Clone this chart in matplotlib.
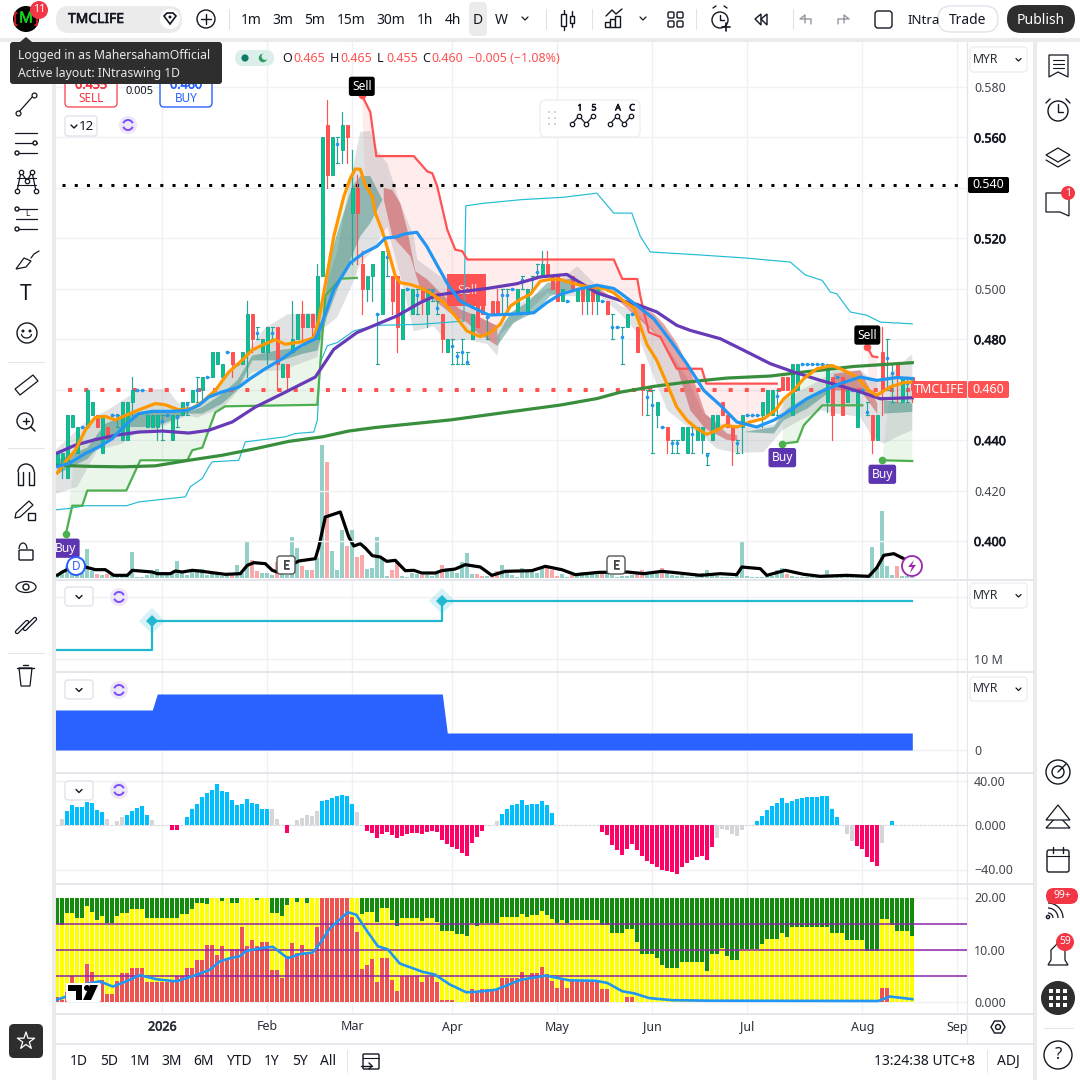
import numpy as np
import matplotlib
matplotlib.use("Agg")
import matplotlib.pyplot as plt
import matplotlib.patheffects as pe
from matplotlib.patches import FancyBboxPatch, Circle, Rectangle, Polygon

plt.rcParams['font.family'] = ['Noto Sans', 'DejaVu Sans']
plt.rcParams['lines.solid_joinstyle'] = 'round'

# ---------------- candles (one per trading day) ----------------
opens = [.43,.43,.425,.445,.435,.445,.445,.45,.45,.435,.445,.45,.45,.44,.44,.455,.46,.46,.445,.445,
 .445,.4475,.45,.44,.449,.45,.4545,.455,.46,.46,.465,.465,.47,.465,.475,.475,.47,.47,.475,.49,
 .4825,.475,.475,.4825,.485,.465,.47,.475,.48,.49,.485,.49,.48,.505,.565,.545,.5575,.555,.565,.53,
 .54,.51,.50,.505,.49,.49,.5125,.505,.505,.48,.50,.49,.4975,.50,.49,.499,.4925,.49,.475,.4775,
 .4735,.475,.471,.48,.495,.495,.489,.495,.495,.4975,.4975,.50,.49,.5035,.49,.504,.5065,.505,.51,.505,
 .505,.495,.495,.505,.495,.50,.495,.50,.495,.495,.495,.485,.485,.481,.485,.49,.485,.47,.457,.454,
 .45,.445,.445,.439,.439,.44,.435,.4425,.44,.44,.434,.44,.445,.455,.45,.445,.439,.445,.45,.45,
 .45,.45,.45,.45,.4575,.465,.465,.45,.46,.47,.47,.47,.47,.47,.455,.465,.465,.465,.455,.46,
 .445,.46,.451,.45,.44,.475,.4725,.4665,.47,.455,.4625,.465]
closes = [.435,.435,.45,.45,.445,.445,.46,.455,.445,.45,.44,.45,.45,.455,.455,.46,.46,.46,.45,.45,
 .45,.4475,.45,.45,.449,.455,.4545,.46,.46,.465,.465,.475,.475,.47,.475,.47,.47,.475,.49,.48,
 .4825,.48,.485,.4825,.47,.47,.465,.48,.49,.485,.49,.485,.505,.56,.545,.56,.5575,.565,.56,.54,
 .53,.50,.505,.51,.49,.515,.5125,.495,.485,.50,.50,.50,.4975,.495,.50,.499,.4925,.48,.48,.4775,
 .4735,.475,.471,.49,.485,.49,.489,.49,.49,.4975,.4975,.50,.50,.5035,.50,.504,.5065,.51,.505,.50,
 .495,.50,.495,.50,.50,.495,.50,.495,.50,.495,.49,.485,.485,.481,.49,.49,.475,.46,.457,.454,
 .455,.445,.44,.439,.439,.445,.445,.4425,.445,.445,.434,.45,.45,.45,.445,.44,.439,.45,.45,.45,
 .45,.455,.46,.46,.4575,.46,.46,.47,.47,.47,.47,.47,.47,.47,.47,.45,.465,.45,.46,.46,
 .46,.46,.451,.44,.45,.46,.4725,.4665,.465,.465,.4625,.46]
highs = [.435,.435,.45,.45,.445,.445,.46,.455,.45,.45,.445,.45,.45,.455,.455,.465,.46,.46,.45,.45,
 .45,.45,.45,.45,.45,.455,.455,.46,.465,.465,.465,.475,.475,.47,.475,.475,.47,.475,.495,.49,
 .485,.48,.485,.485,.485,.47,.47,.495,.49,.495,.49,.49,.51,.56,.575,.56,.56,.57,.565,.555,
 .545,.515,.505,.51,.49,.515,.515,.505,.505,.50,.50,.50,.50,.50,.50,.50,.495,.49,.48,.48,
 .475,.48,.475,.49,.50,.495,.489,.495,.50,.50,.50,.50,.50,.505,.50,.505,.51,.515,.515,.505,
 .505,.50,.495,.505,.50,.50,.50,.50,.50,.495,.495,.49,.485,.485,.49,.49,.485,.47,.46,.46,
 .455,.445,.445,.44,.44,.445,.445,.445,.445,.445,.435,.45,.45,.455,.45,.445,.44,.45,.45,.45,
 .45,.455,.46,.46,.46,.465,.465,.47,.47,.47,.47,.47,.47,.47,.47,.465,.465,.465,.46,.46,
 .46,.46,.455,.45,.45,.485,.48,.47,.47,.465,.465,.465]
lows = [.43,.425,.425,.445,.435,.445,.445,.45,.445,.435,.44,.45,.445,.44,.44,.45,.46,.46,.445,.445,
 .44,.44,.45,.44,.445,.45,.45,.455,.455,.455,.465,.465,.47,.465,.475,.465,.47,.47,.465,.475,
 .48,.475,.47,.48,.46,.465,.46,.475,.48,.48,.485,.48,.48,.505,.54,.545,.55,.55,.55,.51,
 .51,.49,.495,.495,.47,.49,.505,.49,.475,.48,.50,.49,.49,.49,.485,.495,.49,.475,.475,.47,
 .47,.47,.47,.48,.485,.49,.48,.49,.49,.49,.49,.50,.49,.50,.49,.50,.505,.505,.505,.50,
 .495,.495,.495,.50,.495,.49,.49,.49,.49,.495,.49,.48,.485,.47,.485,.49,.475,.45,.45,.435,
 .445,.445,.435,.435,.435,.44,.435,.435,.44,.435,.43,.44,.445,.45,.445,.43,.435,.435,.45,.45,
 .45,.445,.45,.45,.45,.46,.46,.45,.46,.47,.47,.47,.47,.47,.451,.44,.465,.45,.455,.46,
 .445,.46,.45,.435,.44,.45,.46,.455,.455,.455,.455,.455]

# ---------------- volume ----------------
volume = [15,20,35,20,20,15,88,20,12,10,12,8,8,8,10,78,4,4,8,15,28,10,8,18,50,15,8,28,28,28,10,15,15,5,8,10,38,15,112,55,
 20,15,15,10,48,15,10,122,90,35,25,25,60,400,347,80,25,145,95,145,62,70,28,30,123,60,6,25,48,6,3,15,12,10,8,6,12,40,30,25,
 15,48,75,12,12,6,6,5,20,38,15,8,3,30,25,25,15,32,36,25,6,12,3,8,5,18,10,12,12,20,15,10,3,5,5,8,18,25,10,12,
 14,30,14,8,5,8,4,4,5,14,25,12,5,4,3,4,5,112,5,3,3,4,8,6,25,30,13,6,3,3,3,3,3,6,25,8,8,8,8,3,
 3,3,10,92,30,202,35,8,35,5,5,3]
vol_down_idx = [8,10,35,39,40,44,49,51,54,58,60,61,67,68,73,77,84,85,87,88,98,99,100,103,109,116,117,121,146,168]
flow_i = [0,1,3,5.6,7.6,9.6,11.3,14,15,19,20,22.6,23.6,25,27,29,31,33.6,36.6,38,39.3,41.6,43,44,48.3,51.6,52.3,53.6,56.6,58.3,59.3,60.6,
 61.6,63,64.6,65.9,67.6,69.6,71.3,72.9,75.6,76.9,79.6,81.6,84.6,86.9,89.6,94.9,97.6,100.9,103.6,108.3,114,117.3,120.9,124.3,128.6,132.6,135.9,136.9,140.6,141.9,145.6,149.3,152.6,157.9,162.3,163.9,165.3,167.3,169.3]
flow_v = [8,18,33,33,25,25,8,8,23,18,13,13,21,18,23,20,16,11,13,38,46,43,23,18,51,58,93,183,198,123,96,103,
 90,67,63,50,53,22,23,15,15,22,27,40,33,8,20,22,35,25,10,17,18,13,20,15,8,13,10,33,28,8,23,11,5,8,5,31,68,73,58]

# ---------------- moving averages ----------------
orange_i = [0,1.6,3.6,5.6,7.6,9.6,11.6,13.9,16.3,19.6,21.6,24.3,26.9,28.9,31.6,34.3,36.6,38.9,40.9,43.6,45.6,48.9,51.3,52.3,54,55.3,57.3,58.6,59.6,60.6,61.6,63,63.6,65,66.3,67.6,68.6,70.6,72.6,74.6,77.3,79.6,81.9,84.6,86.6,88.6,90.6,92.6,94.6,96.6,98.6,100.6,102.6,105.3,109.3,111.3,113.3,115.3,117.9,119.9,121.9,123.9,125.9,127.9,129.9,131.9,133.6,135.9,138.6,141.3,143.6,145.3,147.3,149.3,151.9,154.9,157.3,159.9,162.3,163.9,166.6,169.3,171]
orange_p = [.427,.4313,.436,.444,.449,.4494,.448,.45,.452,.4545,.454,.452,.4525,.455,.4597,.467,.471,.4756,.4776,.4798,.478,.479,.4806,.4875,.5063,.5208,.5366,.5438,.5475,.5474,.5412,.5366,.53,.5228,.5142,.505,.5024,.5017,.5004,.4984,.4945,.4892,.4833,.481,.4826,.486,.4931,.4958,.4978,.503,.5037,.5037,.5024,.5011,.5001,.4984,.4951,.4925,.478,.4716,.4624,.4531,.4479,.4446,.4423,.4439,.4459,.4452,.4472,.4485,.4518,.4564,.4597,.4644,.4683,.4696,.4677,.465,.4597,.4578,.4611,.4628,.463]
blue_i = [0,2.3,5.6,8.3,11,12.6,14.3,16.3,19,23,26,28.3,30.3,33,36.3,38.6,41.6,45,48.3,51.6,52.6,55.3,58.6,61.3,63.9,65.6,67.6,69.6,71.9,73.9,75.9,78.3,80.6,83.6,86.3,90.6,95.3,97.9,100.6,103.9,107.9,111.3,112.6,115.9,119.3,122.6,125.9,129.3,132.6,135.9,139.9,143.3,146.6,149.9,153.3,156.6,160.6,163.9,167.9,171]
blue_p = [.4296,.4307,.4347,.4373,.4406,.4439,.4472,.4505,.4514,.4514,.4518,.4538,.4571,.4591,.461,.4644,.4683,.4723,.4769,.4802,.4846,.4997,.5103,.5142,.5168,.5201,.5205,.5218,.5224,.5168,.5096,.5011,.4951,.4921,.4896,.4899,.4905,.4945,.4978,.4997,.5014,.5001,.4983,.4934,.4881,.4795,.4703,.4597,.4538,.4472,.4452,.4479,.4518,.4564,.4597,.4624,.465,.4637,.4648,.4644]
purple_i = [0,3.6,7.6,11.6,16.3,21,26.3,30.3,35,39.6,45,51.6,55.3,59.9,63.9,67.9,72.6,75.9,80.6,85.9,91.9,96.6,101.9,104.6,107.9,112.6,115.9,119.9,123.9,126.6,132.6,137.3,142.6,147.3,152.6,157.3,160.6,164.6,171]
purple_p = [.4349,.438,.4402,.4419,.4432,.4436,.4428,.4439,.4472,.4531,.4584,.465,.476,.4826,.4859,.4892,.4945,.4975,.4988,.5001,.502,.5047,.5057,.5024,.4984,.4954,.4938,.4908,.4855,.4835,.4802,.4756,.4703,.467,.4637,.4611,.4591,.4564,.4568]
longma_i = [0,6.3,13,19.6,26.3,33,39.6,46.3,53,58.3,63.6,78.6,88.6,100.6,108,112.6,119.3,125.9,133.9,142.6,149.3,159.3,171]
longma_p = [.43,.4296,.4294,.4298,.432,.434,.4366,.4395,.4413,.4436,.445,.448,.4507,.4539,.4565,.459,.4613,.463,.4646,.4654,.467,.4692,.4707]
cyan_i = [-1,2.3,5.6,13.9,16.3,25.6,26.6,29,30.3,31,36.3,37.6,45.6,47.6,51.3,52,52.6,54,56,59.3,63.9,72.6,81.3,81.7,85.3,92.6,101.3,107.9,111.3,114.9,116.6,118.6,128.6,137.6,146.6,149.6,153,154.6,155.9,158.6,161.9,164.6,171]
cyan_p = [.4122,.4129,.414,.414,.4155,.4175,.4215,.4248,.4294,.4314,.432,.4393,.4413,.4426,.4432,.4479,.4708,.4774,.4787,.4833,.4855,.4859,.4872,.5329,.5339,.5353,.5363,.5379,.53,.53,.5208,.5146,.5134,.5122,.5106,.5055,.5033,.4987,.498,.4908,.4895,.4868,.4861]

# ---------------- trailing stops ----------------
green1_i = [1.7,3,5,6,13.8,16.6,26,27,29,31.6,33.6,52,53.6,54,56.6,59.9]
green1_p = [.4027,.414,.414,.42,.42,.432,.432,.436,.437,.451,.4534,.454,.4974,.4981,.504,.5043]
red1_i = [60.9,62.6,63.8,71.3,74,75,76,78,79.6,81,82,111.3,113,116,116.6,118.3,120.6,123.9,128.9,129.8,143.9]
red1_p = [.5767,.5701,.5526,.5526,.5465,.5458,.5405,.5234,.5155,.5149,.5116,.5116,.5039,.5039,.4971,.4828,.4809,.4683,.4683,.4624,.4624]
green2_i = [145,148,149.3,153,161]
green2_p = [.4386,.4393,.4459,.4538,.4538]
red2_i = [162,163,164]
red2_p = [.4769,.4732,.4729]
green3_i = [165,171]
green3_p = [.432,.4317]

# ---------------- ribbons ----------------
cloud_top_i = [-1,6,11,16,22,24,28,32,34,39,41.6,46,52,56,58.3,60.6,62.6,64,66,68.3,71.3,72,76,79,85,88,90,92.6,99,104,108,112.6,115.9,119.3,122.6,125.9,129.3,132.6,135.9,140.6,143.6,145.3,148.6,152.6,155.3,160.6,163.3,166,170.6,171]
cloud_top_p = [.4349,.4477,.453,.4597,.4603,.4551,.4525,.4597,.4656,.4779,.4845,.4898,.4905,.515,.54,.5622,.5626,.555,.5497,.5353,.5208,.5116,.5057,.501,.4879,.4853,.4879,.4945,.501,.5089,.501,.4934,.4901,.4835,.4749,.465,.4505,.4465,.4452,.4452,.4465,.4558,.4597,.4637,.4677,.4677,.4637,.465,.4736,.4736]
cloud_bot_i = [-1,4,8,13,16,20,26,28,33,35,39,45,52,53,56,58.6,60.6,63,66,68.5,71.3,75.3,78,81.3,86,88,88.6,90.6,94,98,100.6,104,108.6,112.6,115.9,119.3,122,125.3,129.3,131.9,135.9,141.3,145,148.6,152.6,155.9,160.6,163,165.3,168.6,171]
cloud_bot_p = [.4182,.4215,.436,.4386,.4432,.4445,.4498,.4489,.4528,.4568,.4671,.4677,.4729,.4838,.4888,.5,.51,.515,.5247,.5057,.4831,.4851,.4787,.48,.4781,.4734,.482,.4853,.4905,.4984,.4971,.4971,.4971,.4901,.4828,.465,.4518,.4465,.4413,.4366,.4349,.4353,.4439,.4479,.4518,.4505,.4492,.4413,.4386,.4419,.4439]

rise1_top_i = [0,6,9.6,14.3,19.6,26,29,33,36,39,44,49,52,53,54.6,56.6,59,60.6,62.6,65]
rise1_top_p = [.432,.437,.4465,.4505,.4512,.4512,.4531,.4584,.4637,.4735,.4756,.4768,.4809,.487,.5129,.526,.5405,.5447,.5447,.5353]
rise1_bot_i = [0,6,9.6,14.3,19.6,26,29,33,36,39,45,49,52,54,56,58.6,60.6,62.6,65]
rise1_bot_p = [.4265,.4325,.44,.4452,.4452,.4505,.4505,.4545,.4598,.4716,.4716,.4742,.4755,.4892,.4997,.5116,.5208,.526,.5353]
fall1_top_i = [65.3,67,68.6,70,71.6,74,76.6,80.6,84,88]
fall1_top_p = [.5399,.5392,.5339,.5234,.507,.5037,.4984,.4918,.4892,.4853]
fall1_bot_i = [65.3,67,70.6,72.6,76,79.3,82,84,88]
fall1_bot_p = [.5353,.5208,.5129,.50,.4945,.4892,.4866,.4826,.4774]
rise2_top_i = [88,90.6,94,98,100.6,103]
rise2_top_p = [.4813,.4905,.4945,.5024,.503,.5043]
rise2_bot_i = [88,91.3,95.3,98.6,103]
rise2_bot_p = [.4774,.4866,.4905,.4971,.50]
fall2_top_i = [105,108.6,112.6,115.9,119.3,121.3,124,126.6,129.6,134,136]
fall2_top_p = [.5011,.4997,.4947,.494,.4901,.4861,.4782,.4677,.4505,.4426,.4419]
fall2_bot_i = [105,108.6,112.6,115.9,119.3,121.3,124,126.6,129.6,134,136]
fall2_bot_p = [.5011,.4981,.4945,.4888,.4828,.4789,.4683,.4518,.4446,.44,.44]
rise3_top_i = [137.3,143.3,146,150,154]
rise3_top_p = [.4432,.4452,.4525,.4571,.4613]
rise3_bot_i = [137.3,143.3,145.3,150,154]
rise3_bot_p = [.4432,.4426,.4479,.4525,.4584]
fall3_top_i = [155.3,160.6,164]
fall3_top_p = [.4663,.4677,.4545]
fall3_bot_i = [155.3,160.6,164]
fall3_bot_p = [.4597,.4597,.4505]
rise4_top_i = [165.3,171]
rise4_top_p = [.4558,.4545]
rise4_bot_i = [165.3,171]
rise4_bot_p = [.4505,.4512]

# ---------------- lower panes ----------------
step_i = [-1,19,19,77,77,171]
step_v = [11.5,11.5,16.1,16.1,19.4,19.4]
area_i = [-1,19,20,77,78,171]
area_v = [40,40,56,56,17,17]

osc = [0,5.4,12.9,18.7,16.6,16.6,21.1,20.2,13.9,12,5.4,0,3.9,7.8,9.3,12.9,15.7,17.5,9.3,4.5,.6,.6,.6,-4.2,-4.2,0,7.5,15,19.6,25.6,
 29.2,32.2,37.3,31.3,30.1,22.6,18.7,19.6,23.8,20.2,19.3,15,15,15,5.4,0,-6.6,0,4.8,6.6,9.3,8.4,12.9,22.3,22.9,24.7,26.5,27.4,26.5,19.3,
 12,0,-5.1,-7.2,-11.1,-7.8,-5.7,-8.4,-11.1,-9.3,-7.8,-6.9,-6.9,-7.5,-6,-5.1,-6,-12.9,-16.6,-19.3,-21.1,-25,-27.4,-15.7,-10.2,-5.1,0,0,3.6,10.2,
 14.4,18.1,19.6,22.9,18.7,19.6,19.6,22,18.7,11.4,0,0,0,0,0,0,0,0,0,-6,-8.7,-17.5,-22.6,-26.5,-21.1,-16.6,-22,-27.7,-32.2,-34.9,
 -37.6,-40.3,-41.8,-42.7,-43.9,-37.6,-33.7,-31,-28.6,-27.7,-31.3,-19.6,-11.1,-3.6,-4.2,-7.5,-9.6,-4.2,0,0,4.2,8.4,13.8,17.5,20.2,24.7,20.2,22,23.8,24.7,
 25.6,25.6,25.6,26.5,26.5,14.7,7.5,0,-7.5,-13.8,-18.7,-21.1,-28.3,-32.8,-36.4,-15.7,0,3.9,0,0,0,0]
osc_grey_idx = [1,10,12,13,19,20,21,22,43,44,48,49,50,51,52,60,88,132,133,134,135,136,137,158,159,165]

stack_red = [1.0,.5,1.9,5,2.4,3.7,7.4,5.8,1.8,4.2,1.5,1.5,4.1,5.5,5.5,6.6,6.6,6.6,3.8,3.8,3.8,3.8,3.8,3.8,5.1,5.1,6.6,6.6,8.1,8.1,
 11,11,9.1,10.7,8.4,10.2,10.2,14.4,10.7,11.9,10.7,11.6,11.6,6.2,6.2,4.6,8.9,11.4,9.4,11,9.3,9.3,14.3,20,20,20,20,20,20,16.2,
 13.5,6.4,7.2,8.3,3.8,8.4,8.4,4.2,2.2,5,5,5,5,3.8,4.8,4.8,3.8,.5,.5,.5,.1,.1,.1,2.5,1.7,2.5,2.5,2.5,2.5,4.6,
 4.6,4.6,4.6,5.8,4.4,5.5,5.5,6.7,5.4,4.1,2.7,4.2,2.7,4.1,4.1,4.1,4.1,4.1,4.1,2.6,2.6,.1,.1,.1,1.1,1.1] + [.1]*49 + [2.7,2.7,.1,.1,.1,.1,.1]
stack_yellow = [15,14.8,17,17,16.1,16.1,18.4,17.3,15.7,16.4,15.1,15.1,16.4,17,17,17.8,17.8,17.8,16.1,16.1,16.1,16.1,16.1,16.1,16.1,16.8,16.8,17.8,18.9,18.9,
 18.7,20,20,19.4,20,18.9,18.9,19.9,20,19.9,19.6,20,20,17.1,17.1,16.4,18.6,20,19.2,19.9,18.9,20,20,20,20,20,20,20,20,20,
 20,16.8,17.3,17.3,15.4,18,18,15.7,14.6,16.1,16.1,16.1,16.1,15.6,16.1,16.1,15.4,13.7,13.7,13.7,13.1,13.1,12.6,15.1,14.5,15.1,15.1,15.1,15.1,16.2,
 16.2,16.2,16.2,16.9,16.2,16.7,16.7,17.4,16.7,15.9,15.1,15.7,15.1,15.7,15.7,15.7,15.7,15.7,15.7,14.8,14.8,13.3,13.3,13.3,14,14,11.5,9.3,9.3,9.3,
 8.5,7.2,6.5,6.5,6.5,7.6,7.6,7.6,7.6,7.6,6,9.3,9.3,10.3,8.8,8,8,10.1,10.1,10.1,10.1,11.2,12.1,12.1,12.1,13.3,12.4,14.4,14.4,14.4,
 14.4,14.4,14.4,14.4,14.4,13.3,13.3,13.3,11.9,11.9,11.9,11.9,9.7,9.7,9.7,15.9,15.9,14.8,13.6,13.6,13.6,12.6]
stack_total = 20
stack_levels = [5,10,15]
adx_i = [0,1.8,3.1,8.5,11.1,13.8,16.5,19.8,23.8,27.1,30.5,32.5,34.5,36.5,37.8,40.5,43.1,46.1,48.5,51.1,52.5,54.5,58.1,59.8,61.8,64.1,66.1,68.5,73.1,75.5,78.5,81.8,85.1,87.7,92.7,97.7,102.3,107.7,110,113,115.4,118.4,123,130.8,164.2,166.5,171]
adx_v = [.5,1.1,3,4,3,4,5.2,4.4,4,5,6.2,7.8,8.4,8.8,9.8,10.3,10.6,8.4,9.2,9.5,11.2,14.1,17.2,16.7,13.8,10.7,10.1,7.4,5.8,5.3,3.4,1.9,2.1,2.4,4.3,5.1,4.2,4.1,3.7,2.1,1.7,.8,.4,.3,.25,1.1,.6]

month_i = [21,42,59,79,100,119,138,161,180]
month_labels = ['2026','Feb','Mar','Apr','May','Jun','Jul','Aug','Sep']
price_ticks = [.58,.56,.54,.52,.50,.48,.46,.44,.42,.40]
bold_ticks = [.56,.52,.48,.44,.40]
boxed_ticks = [.54,.46]
last_price = .46
target_price = .541

# ---------------- layout ----------------
W = 1080
INK = '#131722'; GRID = '#f0f1f4'; SEP = '#e4e6ec'; GUT = '#ebebeb'
RED = '#ff5252'; GRN = '#26a69a'; BODY = '#00c98a'; DOJI = '#2196f3'
fig = plt.figure(figsize=(10.8, 10.8), dpi=100, facecolor='white')

def faux(color, w=.45):
    return [pe.withStroke(linewidth=w, foreground=color)]

def pane(y0, y1, x0=56, x1=967):
    a = fig.add_axes([x0/W, 1-y1/W, (x1-x0)/W, (y1-y0)/W])
    a.set_xlim((x0-57.3)/5, (x1-57.3)/5)
    for s in ['top', 'left', 'bottom']:
        a.spines[s].set_visible(False)
    a.spines['right'].set_color(SEP)
    a.yaxis.tick_right()
    a.tick_params(axis='y', length=0, pad=5, labelsize=9, labelcolor='#434651')
    a.set_xticks(month_i)
    a.tick_params(axis='x', length=0, labelbottom=False)
    a.grid(True, color=GRID, lw=1)
    a.set_axisbelow(True)
    return a

def ylim_px(a, v1, y1, v2, y2, top, bot):
    k = (v1-v2)/(y2-y1)
    a.set_ylim(v1-(bot-y1)*k, v1+(y1-top)*k)

# volume under the price pane
axv = pane(42, 578)
axv.set_ylim(0, (578-42)*3)
axv.set_yticks([])
vc = ['#f9a9a9' if i in vol_down_idx else '#93d0c8' for i in range(len(volume))]
axv.bar(range(len(volume)), volume, width=.8, color=vc, zorder=2)
axv.plot(flow_i, flow_v, color='black', lw=2.3, zorder=3, solid_capstyle='round')

ax = pane(42, 578)
ax.patch.set_alpha(0)
ylim_px(ax, .58, 87, .40, 541, 42, 578)
ax.set_yticks(price_ticks)
ax.set_yticklabels(['' if t in boxed_ticks else f'{t:.3f}' for t in price_ticks])
for t, lab in zip(price_ticks, ax.get_yticklabels()):
    if t in bold_ticks:
        lab.set_color(INK)
        lab.set_path_effects(faux(INK))
ax.grid(False)
ax.yaxis.grid(True, color=GRID, lw=1)

def band(ix1, y1, ix2, y2, color, alpha, z=1.5):
    ax.fill(list(ix1)+list(ix2)[::-1], list(y1)+list(y2)[::-1], color=color, alpha=alpha, lw=0, zorder=z)

def part(ix, v, a, b):
    pts = [(i, p) for i, p in zip(ix, v) if a <= i <= b]
    return [q[0] for q in pts], [q[1] for q in pts]

for (si, sp, a, b, col) in [(green1_i, green1_p, 2, 60, '#4caf50'), (red1_i, red1_p, 61, 144, RED),
                            (green2_i, green2_p, 145, 161, '#4caf50'), (red2_i, red2_p, 162, 164, RED),
                            (green3_i, green3_p, 165, 171, '#4caf50')]:
    oi, op = part(orange_i, orange_p, a, b)
    band(si, sp, oi, op, col, .11, 1.2)

band(cloud_top_i, cloud_top_p, cloud_bot_i, cloud_bot_p, '#9598a1', .28, 1.4)
TEAL = '#1f7a6c'; DRED = '#c62828'
for ti, tp, bi, bp, c in [(rise1_top_i, rise1_top_p, rise1_bot_i, rise1_bot_p, TEAL),
                          (fall1_top_i, fall1_top_p, fall1_bot_i, fall1_bot_p, DRED),
                          (rise2_top_i, rise2_top_p, rise2_bot_i, rise2_bot_p, TEAL),
                          (fall2_top_i, fall2_top_p, fall2_bot_i, fall2_bot_p, DRED),
                          (rise3_top_i, rise3_top_p, rise3_bot_i, rise3_bot_p, TEAL),
                          (fall3_top_i, fall3_top_p, fall3_bot_i, fall3_bot_p, DRED),
                          (rise4_top_i, rise4_top_p, rise4_bot_i, rise4_bot_p, TEAL)]:
    band(ti, tp, bi, bp, c, .42, 1.6)

# price lines
ax.plot([-1, 171], [last_price]*2, color=RED, lw=2.9, ls=(0, (1, 3)), zorder=1.8)
ax.plot([1, 180.4], [target_price]*2, color='black', lw=2.2, ls=(0, (1, 3)), zorder=1.8)

# big strategy box under candles
ax.add_patch(Rectangle((78, .4932), 7.8, .0127, fc=RED, ec='none', zorder=1.85))
ax.text(82, .4995, 'Sell', color='#ffd9d9', fontsize=9, ha='center', va='center', zorder=1.9)

# candles
for i, (o, h, l, c) in enumerate(zip(opens, highs, lows, closes)):
    up = c >= o
    col = GRN if up else RED
    if o == c:
        ax.plot([i, i], [l, h], color=GRN, lw=.85, zorder=3)
        ax.plot([i-.3, i+.3], [h, h], color=GRN, lw=.8, zorder=3)
        ax.plot([i-.3, i+.3], [l, l], color=GRN, lw=.8, zorder=3)
        ax.plot([i], [o], 'o', color=DOJI, ms=2.6, mew=0, zorder=3.1)
    else:
        ax.plot([i, i], [l, h], color=col, lw=.85, zorder=3)
        ax.bar(i, abs(c-o), bottom=min(o, c), width=.62, color=BODY if up else RED,
               edgecolor=GRN if up else RED, lw=.7, zorder=3.1)

# lines
ax.plot(cyan_i, cyan_p, color='#22bcd4', lw=.85, zorder=3.2)
for si, sp, col in [(green1_i, green1_p, '#4caf50'), (green2_i, green2_p, '#4caf50'), (green3_i, green3_p, '#4caf50'),
                    (red1_i, red1_p, RED), (red2_i, red2_p, RED)]:
    ax.plot(si, sp, color=col, lw=1.6, zorder=3.3)
ax.plot(longma_i, longma_p, color='#388e3c', lw=2.3, zorder=3.5)
ax.plot(purple_i, purple_p, color='#673ab7', lw=2.3, zorder=3.6)
ax.plot(orange_i, orange_p, color='#ff9800', lw=2.3, zorder=3.7)
ax.plot(blue_i, blue_p, color='#2196f3', lw=2.3, zorder=3.8)

# signal marks
for si, sp in [(green1_i, green1_p), (green2_i, green2_p), (green3_i, green3_p)]:
    ax.plot([si[0]], [sp[0]], 'o', color='#4caf50', ms=5.5, mew=0, zorder=4)
for si, sp in [(red1_i, red1_p), (red2_i, red2_p)]:
    ax.plot([si[0]], [sp[0]], 'o', color=RED, ms=5.5, mew=0, zorder=4)

def tag(i, p, s, fc, dy):
    ax.annotate(s, xy=(i, p), xytext=(0, dy), textcoords='offset pixels', ha='center', va='center',
                color='white', fontsize=8.7, zorder=5, annotation_clip=False,
                bbox=dict(boxstyle='round,pad=0.26,rounding_size=0.2', fc=fc, ec='none'), clip_on=True)
tag(1.7, green1_p[0], 'Buy', '#5e35b1', -14)
tag(145, green2_p[0], 'Buy', '#5e35b1', -14)
tag(165, green3_p[0], 'Buy', '#5e35b1', -14)
tag(60.9, red1_p[0], 'Sell', 'black', 9)
tag(162, red2_p[0], 'Sell', 'black', 12)

# cyan step pane
ax2 = pane(580, 671)
ylim_px(ax2, 10, 659, 20, 597, 580, 671)
ax2.set_yticks([10, 20])
ax2.set_yticklabels(['10 M', ''])
ax2.plot(step_i, step_v, color='#22b8cf', lw=1.6, zorder=3)
for i, v in [(step_i[2], step_v[2]), (step_i[4], step_v[4])]:
    ax2.plot([i], [v], 'D', color='#22b8cf', ms=13, mew=0, alpha=.18, zorder=3)
    ax2.plot([i], [v], 'D', color='#22b8cf', ms=6.5, mew=0, zorder=4)

# blue area pane
ax3 = pane(672, 772)
ylim_px(ax3, 0, 750, 40, 710, 672, 772)
ax3.set_yticks([0])
ax3.fill_between(area_i, 0, area_v, color='#2962ff', lw=0, zorder=3)

# oscillator pane
ax4 = pane(773, 883)
ylim_px(ax4, 40, 781, -40, 869.5, 773, 883)
ax4.set_yticks([40, 0, -40])
ax4.set_yticklabels(['40.00', '0.000', '\u221240.00'])
ax4.axhline(0, color='#d1d4dc', lw=.7, ls=(0, (2, 2)), zorder=1)
oc = ['#d5d6da' if i in osc_grey_idx else ('#00bfff' if v > 0 else '#ff0066') for i, v in enumerate(osc)]
ax4.bar(range(len(osc)), osc, width=.76, color=oc, zorder=3)

# stacked pane
ax5 = pane(884, 1013)
ylim_px(ax5, 20, 897.5, 0, 1002.3, 884, 1013)
ax5.set_yticks([0, 10, 20])
ax5.set_yticklabels(['0.000', '10.00', '20.00'])
x5 = np.arange(len(stack_red))
ax5.bar(x5, stack_total, width=.82, color='#128c0a', zorder=2)
ax5.bar(x5, stack_yellow, width=.82, color='#ffff00', zorder=2.1)
ax5.bar(x5, stack_red, width=.82, color='#ef5350', zorder=2.2)
for lv in stack_levels:
    ax5.axhline(lv, color='#8e24aa', lw=1.1, zorder=3)
ax5.plot(adx_i, adx_v, color='#2196f3', lw=1.9, zorder=4)

# ---------------- interface overlay (pixel coordinates) ----------------
ui = fig.add_axes([0, 0, 1, 1], zorder=20)
ui.set_xlim(0, W); ui.set_ylim(W, 0); ui.axis('off'); ui.patch.set_alpha(0)

def T(x, y, s, size=9.5, color=INK, ha='center', va='center', bold=False, **k):
    k.setdefault('zorder', 22)
    t = ui.text(x, y+1, s, fontsize=size, color=color, ha=ha, va=va, **k)
    if bold:
        t.set_path_effects(faux(color))
    return t
def L(xs, ys, lw=1.0, c=INK, **k):
    k.setdefault('zorder', 22)
    ui.plot(xs, ys, color=c, lw=lw, solid_capstyle='round', **k)
def C(x, y, r, fc='none', ec=INK, lw=1.0, z=21):
    ui.add_patch(Circle((x, y), r, fc=fc, ec=ec, lw=lw, zorder=z))
def R(x0, y0, x1, y1, fc='white', ec='none', lw=1.0, r=0, z=20):
    if r:
        ui.add_patch(FancyBboxPatch((x0+r, y0+r), x1-x0-2*r, y1-y0-2*r, boxstyle=f'round,pad={r},rounding_size={r}',
                                    fc=fc, ec=ec, lw=lw, zorder=z))
    else:
        ui.add_patch(Rectangle((x0, y0), x1-x0, y1-y0, fc=fc, ec=ec, lw=lw, zorder=z))
def Pg(pts, fc='white', ec=INK, lw=.9, z=21):
    ui.add_patch(Polygon(pts, fc=fc, ec=ec, lw=lw, zorder=z))
def Ar(x, y, w, h, a, b, ec=INK, lw=.9, z=22, angle=0):
    ui.add_patch(matplotlib.patches.Arc((x, y), w, h, theta1=a, theta2=b, angle=angle, ec=ec, lw=lw, zorder=z))

# gutters
R(0, 0, W, 38); R(0, 38, W, 42, fc=GUT)
R(0, 42, 52, W); R(52, 38, 56, W, fc=GUT)
R(1033, 38, 1037, W, fc=GUT); R(1037, 42, W, W)
R(56, 1040, 1033, W); L([56, 1033], [1044, 1044], 1.2, SEP, zorder=20.5)
L([56, 1033], [1014, 1014], 1.4, SEP, zorder=20.5); L([967, 967], [1014, 1044], 1.0, SEP, zorder=20.5)
for y in [579.5, 671.5, 772.5, 883.5]:
    L([56, 1033], [y, y], 1.4, SEP, zorder=20.5)

# month labels
for i, s in zip(month_i, month_labels):
    if s == 'Sep':
        T(957.3, 1026, s, 9, '#2a2e39', clip_on=True,
          clip_path=Rectangle((56, 1014), 911, 30, transform=ui.transData))
    else:
        T(57.3+5*i, 1026, s, 9, '#2a2e39', bold=(s == '2026'))
# gear
Pg([(991, 1027), (994.5, 1021), (1001.5, 1021), (1005, 1027), (1001.5, 1033), (994.5, 1033)], fc='none', lw=1)
C(998, 1027, 2.5)

# top bar
C(26, 19, 13, fc='black', ec='none')
T(26, 18, 'M', 11, '#19d020', bold=True)
L([17, 15, 15, 17], [13, 13, 25, 25], 1.2, '#e02020'); L([35, 37, 37, 35], [13, 13, 25, 25], 1.2, '#e02020')
C(39, 10, 9, fc='#f23645', ec='none', z=23); T(39, 9, '11', 7.8, 'white', zorder=24)
R(56, 6, 182, 33, fc='#ebebeb', r=13)
T(68, 18.5, 'TMCLIFE', 10, INK, ha='left', bold=True)
C(170, 19, 10, fc='white', ec='none', z=21)
Pg([(164, 16), (167, 13), (173, 13), (176, 16), (170, 24)], lw=1.2, z=22)
C(170, 17, 1.5, fc=INK, ec='none', z=23)
C(206, 19, 9); L([201, 211], [19, 19]); L([206, 206], [14, 24])
R(469, 2, 487, 36, fc='#ebebeb', r=5)
for x, s in zip([251, 283, 315, 351, 391, 425, 453, 478, 501], ['1m', '3m', '5m', '15m', '30m', '1h', '4h', 'D', 'W']):
    T(x, 19, s, 10, INK)
L([522, 525, 528], [17, 20, 17], .9)
for x in [229, 546, 592, 696, 793]:
    L([x, x], [9, 29], .8, '#e0e3eb')
# candle icon
L([563.5, 563.5], [10, 30]); R(561, 14, 566, 26, fc='white', ec=INK, z=23); L([572, 572], [11, 27]); R(570, 16, 574, 23, fc='white', ec=INK, z=23)
# indicators
for x0, h in [(605, 5), (610, 8), (615, 11)]:
    R(x0, 27-h, x0+5, 27, fc='white', ec=INK, z=21)
L([606, 612, 616, 622], [16, 10, 14, 9]); L([640, 643, 646], [17, 20, 17], .9)
for x0 in [668, 677]:
    for y0 in [12, 21]:
        R(x0, y0, x0+6, y0+6, fc='white', ec=INK, r=1.5, z=21)
# alarm
C(720, 20, 8); L([720, 720, 724], [15, 20, 20]); L([713, 716], [8, 6]); L([727, 724], [8, 6]); L([726, 726], [23, 31], 1.2); L([722, 730], [27, 27], 1.2)
Pg([(755, 19), (761, 14), (761, 25)], fc='none', lw=1)
Pg([(761, 19), (767, 14), (767, 25)], fc='none', lw=1)
L([811, 811, 805, 800, 805, 805], [24, 19, 19, 19, 15, 23], 1, '#9598a1'); L([838, 838, 844, 849, 844, 844], [24, 19, 19, 19, 15, 23], 1, '#9598a1')
R(875, 11, 892, 28, fc='white', ec=INK, r=3, z=21)
T(907, 19, 'INtra', 9.5, INK, ha='left', clip_on=True, clip_path=Rectangle((900, 0), 37, 38, transform=ui.transData))
R(938, 6, 998, 32, fc='white', ec='#e0e3eb', r=13, z=21); T(968, 19, 'Trade', 10, INK)
R(1007, 5, 1075, 33, fc='#2e2e2e', r=14, z=21); T(1041, 19, 'Publish', 10, 'white')

# quote legend
R(235, 50, 274, 66, fc='#dbeeea', r=8, z=21)
C(245, 58, 3.6, fc='#0f7a69', ec='none', z=22)
C(263, 58, 4.2, fc='#2a9d5c', ec='none', z=22); C(265, 56.5, 3.4, fc='#dbeeea', ec='none', z=23)
qx = [282, 293, 330, 340, 377, 386, 422, 431, 468]
qs = ['O', '0.465', 'H', '0.465', 'L', '0.455', 'C', '0.460', '\u22120.005 (\u22121.08%)']
qc = [INK, RED, INK, RED, INK, RED, INK, RED, RED]
for x, s, c in zip(qx, qs, qc):
    T(x, 57.5, s, 9, c, ha='left')

# buy / sell buttons
R(65, 72, 117, 107, fc='white', ec='#f7525f', r=4, z=21); R(160, 72, 212, 107, fc='white', ec='#2962ff', r=4, z=21)
T(91, 84, '0.455', 9, '#f23645', bold=True); T(91, 97, 'SELL', 8.5, '#f23645')
T(186, 84, '0.460', 9, '#2962ff', bold=True); T(186, 97, 'BUY', 8.5, '#2962ff')
T(139, 90, '0.005', 8, INK)
# tooltip
R(10, 42, 222, 84, fc='#2e2e2e', r=3, z=30)
Pg([(20, 42), (26, 37), (32, 42)], fc='#2e2e2e', ec='none', z=30)
T(18, 54, 'Logged in as MahersahamOfficial', 8.8, '#e8e8e8', ha='left', zorder=31)
T(18, 72, 'Active layout: INtraswing 1D', 8.8, '#e8e8e8', ha='left', zorder=31)

def refresh(x, y):
    C(x, y, 9, fc='#ede7f6', ec='none')
    Ar(x, y, 10, 10, 20, 160, ec='#7c4dff', lw=1.4)
    Ar(x, y, 10, 10, 200, 340, ec='#7c4dff', lw=1.4)

def chev(x0, y0, x1, y1, label=None):
    R(x0, y0, x1, y1, fc='white', ec='#e0e3eb', r=3, z=21)
    cx = x0+9 if label else (x0+x1)/2
    L([cx-3, cx, cx+3], [(y0+y1)/2-1, (y0+y1)/2+2, (y0+y1)/2-1], 1)
    if label:
        T(x0+21, (y0+y1)/2-1, label, 9.5, INK)
chev(65, 116, 97, 136, '12'); refresh(128, 125)
chev(65, 587, 93, 606); refresh(119, 597)
chev(65, 680, 93, 699); refresh(119, 690)
chev(65, 781, 93, 800); refresh(119, 790)

# floating drawing toolbar
R(540, 100, 640, 137, fc='white', ec='#eeeeee', r=6, z=21)
for x in [549, 555]:
    for y in [112, 118, 124]:
        R(x-1.2, y-1.2, x+1.2, y+1.2, fc='#d1d4dc', z=22)
for x0, a, b in [(572, '1', '5'), (610, 'A', 'C')]:
    xs = [x0, x0+7, x0+14, x0+21]; ys = [124, 116, 124, 116]
    ui.plot(xs, ys, '-o', color=INK, lw=.9, ms=3.2, mfc='white', mew=.9, zorder=22)
    T(x0+8, 107, a, 6.5, INK, bold=True); T(x0+22, 107, b, 6.5, INK, bold=True)

# right scale widgets
for y0, y1 in [(47, 72), (583, 608), (677, 701)]:
    R(970, y0, 1027, y1, fc='white', ec='#eeeeee', r=4, z=21)
    T(973, (y0+y1)/2-1, 'MYR', 8.8, '#2a2e39', ha='left')
    L([1016, 1018.5, 1021], [(y0+y1)/2-1, (y0+y1)/2+1.5, (y0+y1)/2-1], .9)
R(968, 177, 1009, 193, fc='black', r=2, z=21); T(988.5, 184, '0.540', 9, 'white')
R(912, 381, 967, 398, fc=RED, r=1, z=21); T(939.5, 388.5, 'TMCLIFE', 9, 'white')
R(968, 381, 1009, 398, fc=RED, r=2, z=21); T(988.5, 388.5, '0.460', 9, 'white')

# chart badges
C(76, 566, 9, fc='white', ec='#2962ff', lw=1.4); T(76, 565, 'D', 8.5, '#2962ff')
for x in [286, 616]:
    R(x-9, 556, x+9, 574, fc='white', ec='#555555', r=3, z=21)
    T(x, 564, 'E', 8.5, '#444444', bold=True)
C(912, 566, 10, fc='white', ec='#9c27b0', lw=1.3)
Pg([(914, 560), (908, 567), (912, 567), (910, 573), (916, 565), (912, 565)], fc='#9c27b0', ec='none', z=22)
# chart logo
R(66, 983, 101, 1002, fc='white', r=2, z=21)
Pg([(68, 985), (82, 985), (82, 1000), (76, 1000), (76, 991), (68, 991)], fc='black', ec='none', z=22)
Pg([(90, 985), (98, 985), (91, 1000), (83, 1000)], fc='black', ec='none', z=22)
C(87, 988, 3, fc='black', ec='none', z=22)

# left toolbar
ui.plot([18, 34], [113, 95], '-o', color=INK, lw=.9, ms=3.5, mfc='white', mew=.9, zorder=22)
for y in [133, 143, 153]:
    L([15, 37], [y, y], .9)
C(35, 143, 2, fc='white', z=23); C(17, 153, 2, fc='white', z=23)
ui.plot([17, 21, 27, 32, 36], [191, 172, 181, 172, 191], '-o', color=INK, lw=.9, ms=3.2, mfc='white', mew=.9, zorder=22)
L([17, 36], [178, 178], .8); L([17, 36], [185, 185], .8)
for y in [209, 219, 229]:
    L([16, 37], [y, y], .9)
T(27, 213, 'L', 6, INK); C(17, 209, 2, fc='white', z=23); C(17, 229, 2, fc='white', z=23)
Pg([(16, 269), (24, 258), (31, 261), (26, 267)])
L([31, 34, 39], [258, 254, 251], .9)
T(26, 293, 'T', 15, INK)
C(27, 333, 10); C(23, 331, .8, fc=INK); C(30, 331, .8, fc=INK)
Ar(26.5, 334, 10, 8, 0, 180)
L([8, 44], [362, 362], .8, SEP)
Pg([(15, 389), (33, 375), (38, 381), (20, 395)])
C(25, 421, 8); L([23, 29], [421, 421]); L([26, 26], [418, 424]); L([31, 35], [427, 431], 1.1)
L([8, 44], [448, 448], .8, SEP)
Ar(26, 472, 16, 16, 180, 360, lw=1.0)
L([18, 18, 23, 23], [472, 485, 485, 472]); L([34, 34, 29, 29], [472, 485, 485, 472])
Pg([(16, 513), (29, 501), (33, 505), (20, 517), (15, 518)])
R(28, 513, 35, 520, fc='white', ec=INK, z=21)
R(19, 550, 33, 560, fc='white', ec=INK, r=1, z=21); Ar(23, 549, 8, 12, 180, 360)
ui.add_patch(matplotlib.patches.Ellipse((26, 587), 20, 11, fc='white', ec=INK, lw=.9, zorder=21)); C(26, 587, 3)
L([17, 27], [632, 622], 3.2); L([17, 27], [632, 622], 1.4, 'white', zorder=22.5); L([25, 35], [629, 619], 3.2); L([25, 35], [629, 619], 1.4, 'white', zorder=22.5)
L([8, 44], [653, 653], .8, SEP)
Pg([(19, 668), (32, 668), (30, 686), (21, 686)])
L([17, 34], [668, 668]); L([23, 28], [665, 665])
R(9, 1024, 43, 1058, fc='#2e2e2e', r=5, z=21)
ui.scatter([26], [1041], marker='*', s=170, facecolors='none', edgecolors='white', lw=.9, zorder=22)

# right toolbar
Pg([(1049, 55), (1068, 55), (1068, 77), (1058, 72), (1049, 77)])
for y in [60, 64, 68]:
    L([1053, 1064], [y, y], .8)
C(1058, 111, 10); L([1058, 1058, 1063], [104, 112, 112]); L([1046, 1050], [103, 99]); L([1070, 1066], [103, 99])
Pg([(1046, 155), (1058, 148), (1070, 155), (1058, 162)])
L([1046, 1058, 1070], [160, 167, 160], .9)
Pg([(1046, 193), (1069, 193), (1069, 216), (1060, 212), (1046, 212)])
C(1068, 193, 7, fc='#f23645', ec='none', z=22); T(1068, 192, '1', 7.5, 'white', zorder=23)
C(1058, 772, 12); C(1058, 772, 6); L([1058, 1066], [772, 764])
Pg([(1058, 805), (1070, 820), (1046, 820)])
Pg([(1058, 815), (1070, 828), (1046, 828)], z=20.5)
R(1047, 850, 1069, 872, fc='white', ec=INK, r=2, z=21); L([1053, 1053], [847, 853]); L([1063, 1063], [847, 853])
L([1047, 1069], [856, 856], .8)
for r in [5, 10, 15]:
    Ar(1048, 918, 2*r, 2*r, 270, 360, z=21)
C(1048, 917, 1.6)
R(1046, 888, 1078, 904, fc='#f23645', r=8, z=22); T(1062, 895, '99+', 7.5, 'white', zorder=23)
Pg([(1048, 965), (1051, 960), (1051, 950), (1058, 943), (1065, 950), (1065, 960), (1068, 965)])
C(1065, 942, 9, fc='#f23645', ec='none', z=22); T(1065, 941, '59', 7.5, 'white', zorder=23)
C(1058, 998, 17, fc='#2e2e2e', ec='none')
for x in [1051, 1058, 1065]:
    for y in [991, 998, 1005]:
        R(x-2.2, y-2.2, x+2.2, y+2.2, fc='white', z=22)
L([1044, 1073], [1028, 1028], .8, SEP)
C(1058, 1055, 14); T(1058, 1054, '?', 12, INK)

# bottom bar
for x, s in zip([79, 109, 140, 172, 204, 239, 272, 300, 328], ['1D', '5D', '1M', '3M', '6M', 'YTD', '1Y', '5Y', 'All']):
    T(x, 1060.5, s, 10, INK)
L([347, 347], [1050, 1072], .8, SEP)
R(363, 1054, 379, 1069, fc='white', ec=INK, r=1, z=21); L([363, 379], [1058, 1058], .8); L([361, 372], [1066, 1066]); L([369, 372, 369], [1063, 1066, 1069])
T(925, 1060.5, '13:24:38 UTC+8', 10, INK)
L([987, 987], [1050, 1072], .8, SEP)
T(1008, 1060.5, 'ADJ', 10, INK)

assert all(len(a) == 172 for a in [opens, closes, highs, lows, volume, osc, stack_red, stack_yellow])
fig.savefig('out.png', dpi=100, facecolor='white')
